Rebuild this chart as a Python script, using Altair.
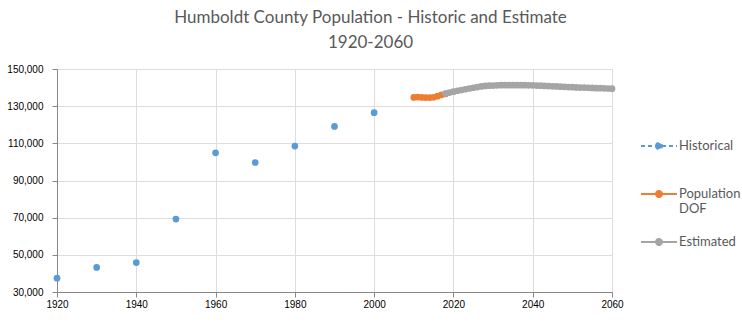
import altair as alt
import pandas as pd

hist_years = [1920, 1930, 1940, 1950, 1960, 1970, 1980, 1990, 2000]
hist_pop = [37413, 43233, 45812, 69241, 104892, 99692, 108514, 119118, 126518]

dof_years = [2010, 2011, 2012, 2013, 2014, 2015, 2016, 2017, 2018]
dof_pop = [134700, 134900, 134700, 134600, 134600, 134800, 135400, 136100, 136600]

est_years = list(range(2018, 2061))
est_pop = [136800, 137300, 137800, 138300, 138700, 139100, 139500, 139900, 140300, 140600,
           140900, 141000, 141100, 141200, 141300, 141300, 141300, 141300, 141300, 141300,
           141300, 141200, 141200, 141100, 141000, 140900, 140800, 140700, 140600, 140500,
           140400, 140300, 140200, 140100, 140000, 140000, 139900, 139800, 139700, 139700,
           139600, 139500, 139400]

series = ["Historical", "Population DOF", "Estimated"]
colors = ["#5b9bd5", "#ed7d31", "#a5a5a5"]

df = pd.concat([
    pd.DataFrame({"Year": hist_years, "Population": hist_pop, "Series": series[0]}),
    pd.DataFrame({"Year": dof_years, "Population": dof_pop, "Series": series[1]}),
    pd.DataFrame({"Year": est_years, "Population": est_pop, "Series": series[2]}),
])

FONT = "Lato"
GRAY = "#595959"

x = alt.X("Year:Q", scale=alt.Scale(domain=[1920, 2060], nice=False),
          axis=alt.Axis(values=list(range(1920, 2061, 20)), format="d", title=None,
                        labelFlush=False))
y = alt.Y("Population:Q", scale=alt.Scale(domain=[30000, 150000], nice=False),
          axis=alt.Axis(values=list(range(30000, 150001, 20000)), format=",.0f", title=None,
                        labelPadding=9, labelFlush=False))

color_scale = alt.Scale(domain=series, range=colors)

sym_path = "M-1.8,0L1.8,0M-0.3,0a0.3,0.3 0 1,0 0.6,0a0.3,0.3 0 1,0 -0.6,0"
label_expr = ("datum.label == 'Population DOF' ? ['Population', 'DOF'] : "
              "[datum.label, '']")

legend_kw = dict(
    title=None, orient="none", legendX=591, legendY=66,
    symbolType=sym_path, symbolSize=400, symbolStrokeWidth=2,
    labelFont=FONT, labelFontSize=13, labelColor=GRAY, labelLimit=200,
    rowPadding=15, labelOffset=9, labelExpr=label_expr, labelBaseline="middle",
)

lines = alt.Chart(df).transform_filter(
    alt.datum.Series != "Historical"
).mark_line(strokeWidth=2.25).encode(
    x=x, y=y,
    color=alt.Color("Series:N", scale=color_scale, legend=alt.Legend(**legend_kw)),
    strokeDash=alt.StrokeDash("Series:N",
                              scale=alt.Scale(domain=series, range=[[4, 3], [1, 0], [1, 0]]),
                              legend=alt.Legend(**legend_kw)),
    detail="Series:N",
)

points = alt.Chart(df).mark_circle(size=45, opacity=1).encode(
    x=x, y=y,
    color=alt.Color("Series:N", scale=color_scale, legend=None),
)

chart = alt.layer(lines, points).properties(
    width=555, height=223,
    title=alt.TitleParams(text=["Humboldt County Population - Historic and Estimate", "1920-2060"],
                          font=FONT, fontSize=17, fontWeight="normal", color=GRAY,
                          lineHeight=25, anchor="middle", offset=12, dx=36),
    autosize=alt.AutoSizeParams(type="none"),
    padding={"left": 57, "top": 69, "right": 130, "bottom": 31},
).configure_view(stroke=None).configure_axis(
    labelFont=FONT, labelFontSize=13.5, labelColor=GRAY,
    gridColor="#d9d9d9", gridWidth=1, domainColor="#bfbfbf",
    ticks=False,
).configure_axisX(labelPadding=6).configure_axisY(domain=False).configure(background="white")

chart.save("out.html", embed_options={"renderer": "svg", "actions": False})
